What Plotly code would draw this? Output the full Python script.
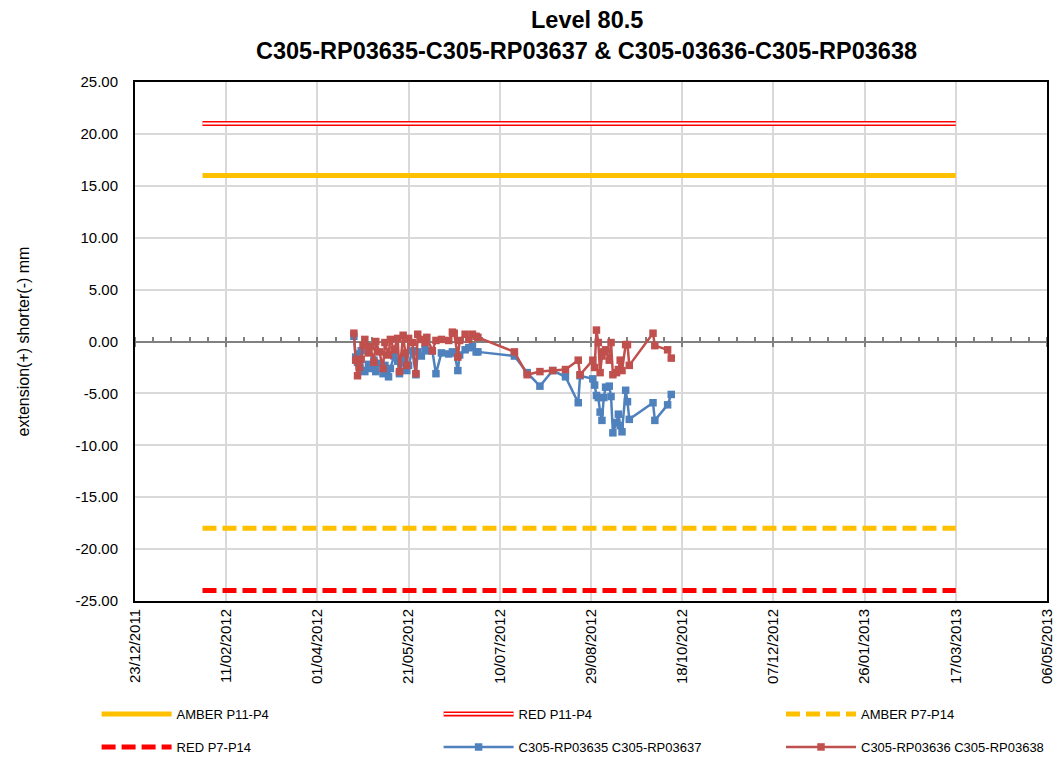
import plotly.graph_objects as go

# ---------------- data ----------------
dates = [
    "2012-04-21", "2012-04-22", "2012-04-23", "2012-04-24", "2012-04-25", "2012-04-26",
    "2012-04-27", "2012-04-29", "2012-04-30", "2012-05-02", "2012-05-03", "2012-05-05",
    "2012-05-07", "2012-05-08", "2012-05-10", "2012-05-11", "2012-05-13", "2012-05-15",
    "2012-05-16", "2012-05-18", "2012-05-19", "2012-05-20", "2012-05-21", "2012-05-23",
    "2012-05-25", "2012-05-26", "2012-05-28", "2012-05-30", "2012-05-31", "2012-06-03",
    "2012-06-05", "2012-06-08", "2012-06-12", "2012-06-14", "2012-06-15", "2012-06-17",
    "2012-06-18", "2012-06-21", "2012-06-23", "2012-06-25", "2012-06-27", "2012-06-28",
    "2012-07-18", "2012-07-25", "2012-08-01", "2012-08-08", "2012-08-15", "2012-08-22",
    "2012-08-23", "2012-08-30", "2012-08-31", "2012-09-01", "2012-09-02", "2012-09-03",
    "2012-09-04", "2012-09-05", "2012-09-06", "2012-09-08", "2012-09-09", "2012-09-10",
    "2012-09-12", "2012-09-13", "2012-09-14", "2012-09-15", "2012-09-17", "2012-09-18",
    "2012-09-19", "2012-10-02", "2012-10-03", "2012-10-10", "2012-10-12",
]
blue_vals = [
    0.5, -1.5, -2.0, -1.2, -0.9, -2.8, -2.9, -2.2, -2.6, -1.8, -2.9, -2.1,
    -3.1, -2.3, -3.4, -2.6, -1.4, -1.9, -3.1, -2.0, -1.3, -2.8, -2.3, -0.9,
    -3.2, -1.0, -1.4, -0.7, -0.9, -0.9, -3.1, -1.1, -1.2, -1.0, -1.1, -2.8,
    -1.3, -0.8, -0.6, -0.5, -1.0, -1.0, -1.4, -3.0, -4.3, -2.8, -3.4, -5.9,
    -3.3, -3.6, -4.2, -5.2, -5.4, -6.8, -7.6, -5.4, -4.4, -4.3, -5.3, -8.8,
    -7.8, -7.0, -8.1, -8.7, -4.7, -5.8, -7.5, -5.9, -7.6, -6.1, -5.1,
]
red_vals = [
    0.8, -1.8, -3.3, -2.5, -1.7, -0.4, 0.2, -1.1, -0.5, -2.0, 0.0, -1.0,
    -2.6, -0.1, -1.3, 0.2, -0.8, 0.3, -2.9, 0.6, -1.1, -2.3, 0.3, -0.1,
    -3.1, 0.7, 0.2, -0.1, 0.4, -0.9, 0.1, 0.2, 0.1, 0.9, 0.8, -1.5,
    0.1, 0.7, 0.2, 0.7, 0.5, 0.4, -1.0, -3.2, -2.9, -2.8, -2.7, -1.8,
    -3.2, -1.8, -2.5, 1.1, -0.1, -3.0, -1.4, -1.0, -0.8, -1.8, -0.1, -3.2,
    -3.0, -2.7, -1.8, -2.8, -0.3, -0.3, -2.3, 0.8, -0.4, -0.8, -1.6,
]

limit_dates = ["2012-01-29", "2013-03-17"]
amber_p11_p4 = [16.0, 16.0]
red_p11_p4 = [21.0, 21.0]
amber_p7_p14 = [-18.0, -18.0]
red_p7_p14 = [-24.0, -24.0]

y_ticks = [-25, -20, -15, -10, -5, 0, 5, 10, 15, 20, 25]
y_tick_text = [f"{v:.2f}" for v in y_ticks]
x_range = ["2011-12-23", "2013-05-06"]
title_lines = ["Level 80.5", "C305-RP03635-C305-RP03637 &amp; C305-03636-C305-RP03638"]
DAY = 86400000

FONT = "Liberation Sans, Arial, sans-serif"
AMBER = "#FFC000"
RED = "#FF0000"
BLUE_S = "#4F81BD"
RED_S = "#C0504D"

W, H = 1059, 761
COL_X = [96.6, 438.6, 781.0]   # legend column left edges (px)
ROW_Y = [714, 747]            # legend row centres (px)

fig = go.Figure()

fig.add_trace(go.Scatter(x=limit_dates, y=amber_p11_p4, mode="lines", name="AMBER P11-P4",
                         line=dict(color=AMBER, width=5), legend="legend"))
fig.add_trace(go.Scatter(x=limit_dates, y=red_p11_p4, mode="lines", name="RED P11-P4",
                         line=dict(color=RED, width=5), legend="legend2"))
fig.add_trace(go.Scatter(x=limit_dates, y=red_p11_p4, mode="lines", name=" ",
                         line=dict(color="white", width=1.8), hoverinfo="skip",
                         legend="legend7"))
fig.add_trace(go.Scatter(x=limit_dates, y=amber_p7_p14, mode="lines", name="AMBER P7-P14",
                         line=dict(color=AMBER, width=5, dash="14px,6px"), legend="legend3"))
fig.add_trace(go.Scatter(x=limit_dates, y=red_p7_p14, mode="lines", name="RED P7-P14",
                         line=dict(color=RED, width=5, dash="14px,6px"), legend="legend4"))
fig.add_trace(go.Scatter(x=dates, y=blue_vals, mode="lines+markers",
                         name="C305-RP03635 C305-RP03637",
                         line=dict(color=BLUE_S, width=2.5),
                         marker=dict(symbol="square", size=7.5, color=BLUE_S),
                         legend="legend5"))
fig.add_trace(go.Scatter(x=dates, y=red_vals, mode="lines+markers",
                         name="C305-RP03636 C305-RP03638",
                         line=dict(color=RED_S, width=2.5),
                         marker=dict(symbol="square", size=7.5, color=RED_S),
                         legend="legend6"))

# zero axis overlay (drawn at y = 0)
fig.add_trace(go.Scatter(x=x_range, y=[None, None], xaxis="x2", showlegend=False,
                         hoverinfo="skip"))


def leg(col, row):
    return dict(orientation="h", xanchor="left", yanchor="middle",
                xref="container", yref="container",
                x=COL_X[col] / W, y=1 - ROW_Y[row] / H,
                font=dict(family=FONT, size=13, color="#000000"),
                itemwidth=70, bgcolor="rgba(0,0,0,0)", borderwidth=0)


fig.update_layout(
    width=W, height=H,
    margin=dict(l=135, r=12, t=82, b=160, autoexpand=False),
    paper_bgcolor="white", plot_bgcolor="white",
    font=dict(family=FONT, color="#000000"),
    legend=leg(0, 0), legend2=leg(1, 0), legend3=leg(2, 0),
    legend4=leg(0, 1), legend5=leg(1, 1), legend6=leg(2, 1),
    legend7=leg(1, 0),
    xaxis=dict(range=x_range, type="date", tick0=x_range[0], dtick=50 * DAY,
               tickformat="%d/%m/%Y", tickangle=-90,
               tickfont=dict(family=FONT, size=15, color="#000000"),
               showgrid=True, gridcolor="#D9D9D9", gridwidth=1.5,
               showline=True, linecolor="#000000", linewidth=2, mirror=True,
               ticks="", zeroline=False, automargin=False),
    xaxis2=dict(range=x_range, type="date", overlaying="x", anchor="free", position=0.5,
                tick0=x_range[0], dtick=50 * DAY, showticklabels=False,
                ticks="outside", ticklen=4, tickwidth=1.5, tickcolor="#808080",
                minor=dict(ticks="inside", ticklen=4, tickwidth=1.5, tickcolor="#808080",
                           dtick=10 * DAY, tick0=x_range[0], showgrid=False),
                showgrid=False, showline=True, linecolor="#808080", linewidth=2,
                layer="below traces", zeroline=False, automargin=False),
    yaxis=dict(range=[-25, 25], tickvals=y_ticks, ticktext=y_tick_text,
               tickfont=dict(family=FONT, size=15, color="#000000"),
               ticklabelstandoff=12, automargin=False,
               showgrid=True, gridcolor="#D9D9D9", gridwidth=1.5,
               showline=True, linecolor="#000000", linewidth=2, mirror=True,
               ticks="", zeroline=False,
               title=dict(text="extension(+) shorter(-) mm", standoff=42,
                          font=dict(family=FONT, size=16, color="#000000"))),
    showlegend=True,
)

fig.add_annotation(text=f"<b>{title_lines[0]}</b>", xref="paper", yref="paper",
                   x=0.4956, y=(601 - 20.5) / 519, xanchor="center", yanchor="middle",
                   showarrow=False, font=dict(family=FONT, size=23.5, color="#000000"))
fig.add_annotation(text=f"<b>{title_lines[1]}</b>", xref="paper", yref="paper",
                   x=0.4956, y=(601 - 50.5) / 519, xanchor="center", yanchor="middle",
                   showarrow=False, font=dict(family=FONT, size=23.5, color="#000000"))

fig.write_html("out.html", config={"displayModeBar": False},
               post_script="document.body.style.margin='0px';")
